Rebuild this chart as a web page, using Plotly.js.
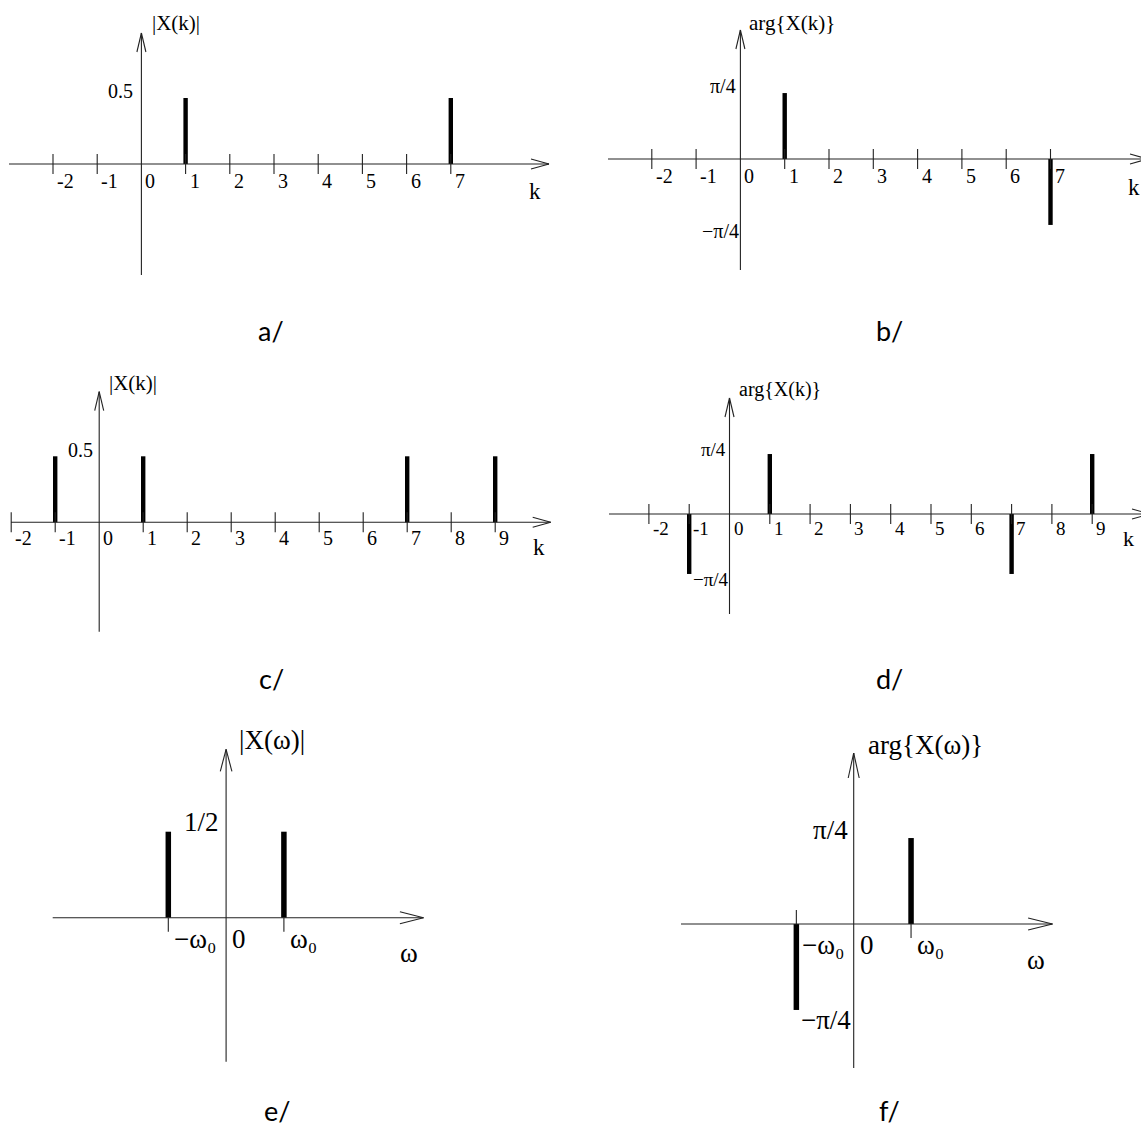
<!DOCTYPE html>
<html><head><meta charset="utf-8">
<script src="https://cdn.plot.ly/plotly-3.0.1.min.js"></script>
<style>html,body{margin:0;padding:0;background:#fff}</style>
</head><body>
<div id="chart" style="width:1141px;height:1129px"></div>
<script>
// ---------------- data ----------------
const kA = [1, 7];
const magA = [0.5, 0.5];
const kB = [1, 7];
const argB = [0.785, -0.785];
const kC = [-1, 1, 7, 9];
const magC = [0.5, 0.5, 0.5, 0.5];
const kD = [-1, 1, 7, 9];
const argD = [-0.785, 0.785, -0.785, 0.785];
const wE = [-1, 1];
const magE = [0.5, 0.5];
const wF = [-1, 1];
const argF = [-0.785, 0.785];

const tickValsAB = [-2, -1, 0, 1, 2, 3, 4, 5, 6, 7];
const tickTextAB = ['-2', '-1', '0', '1', '2', '3', '4', '5', '6', '7'];
const tickValsCD = [-2, -1, 0, 1, 2, 3, 4, 5, 6, 7, 8, 9];
const tickTextCD = ['-2', '-1', '0', '1', '2', '3', '4', '5', '6', '7', '8', '9'];
const tickValsW = [-1, 0, 1];
const tickTextW = ['\u2212\u03c9\u2080', '0', '\u03c9\u2080'];

const magLevelK = [0.5], magTextK = ['0.5'];
const magLevelW = [0.5], magTextW = ['1/2'];
const argLevels = [0.785, -0.785], argText = ['\u03c0/4', '\u2212\u03c0/4'];

const yTitles = ['|X(k)|', 'arg{X(k)}', '|X(k)|', 'arg{X(k)}', '|X(\u03c9)|', 'arg{X(\u03c9)}'];
const xTitles = ['k', 'k', 'k', 'k', '\u03c9', '\u03c9'];
const captions = ['a/', 'b/', 'c/', 'd/', 'e/', 'f/'];

// ---------------- geometry / style ----------------
const W = 1141, H = 1129;
const AXC = '#222';
const SERIF = 'Liberation Serif, Times New Roman, serif';
const SANS = 'Lato, Open Sans, sans-serif';

const traces = [], shapes = [], annotations = [];
const layout = {
  width: W, height: H, margin: {l: 0, r: 0, t: 0, b: 0},
  paper_bgcolor: '#fff', plot_bgcolor: 'rgba(0,0,0,0)', showlegend: false,
  shapes, annotations
};

function addPanel(n, g, d) {
  const sfx = n > 1 ? String(n) : '';
  const xa = 'x' + sfx, ya = 'y' + sfx;
  const [bl, br, bt, bb] = g.box;
  const [ox, oy] = g.o;
  const dx = px => (px - ox) / g.sx;
  const dy = py => (oy - py) / g.sy;
  layout['xaxis' + sfx] = {domain: [bl / W, br / W], range: [dx(bl), dx(br)], visible: false, fixedrange: true, anchor: ya};
  layout['yaxis' + sfx] = {domain: [1 - bb / H, 1 - bt / H], range: [dy(bb), dy(bt)], visible: false, fixedrange: true, anchor: xa};
  const line = {color: AXC, width: 1.1};
  const xTip = dx(g.xAx[1]), yTip = dy(g.yAx[0]);
  // axis lines
  shapes.push({type: 'line', xref: xa, yref: ya, x0: dx(g.xAx[0]), x1: xTip, y0: 0, y1: 0, line});
  shapes.push({type: 'line', xref: xa, yref: ya, x0: 0, x1: 0, y0: yTip, y1: dy(g.yAx[1]), line});
  // arrow heads (open V)
  [g.arrX[1], -g.arrX[1]].forEach(h => shapes.push({type: 'line', xref: xa, yref: ya,
    xsizemode: 'pixel', ysizemode: 'pixel', xanchor: xTip, yanchor: 0,
    x0: -g.arrX[0], y0: h, x1: 0, y1: 0, line}));
  [g.arrY[1], -g.arrY[1]].forEach(h => shapes.push({type: 'line', xref: xa, yref: ya,
    xsizemode: 'pixel', ysizemode: 'pixel', xanchor: 0, yanchor: yTip,
    x0: h, y0: -g.arrY[0], x1: 0, y1: 0, line}));
  // tick marks + labels
  d.tickVals.forEach((t, j) => {
    if (t !== 0) {
      let y0, y1;
      if (g.tickMode === 'cross') { y0 = -g.tickLen; y1 = g.tickLen; }
      else {
        const idx = d.x.indexOf(t);
        const s = idx >= 0 && d.y[idx] < 0 ? -1 : 1;
        y0 = 0; y1 = -s * g.tickLen;
      }
      shapes.push({type: 'line', xref: xa, yref: ya, ysizemode: 'pixel', yanchor: 0,
        x0: t, x1: t, y0, y1, line});
    }
    annotations.push({xref: xa, yref: ya, x: t, y: 0, text: d.tickText[j], showarrow: false,
      xanchor: 'left', yanchor: 'top', xshift: g.tlShift[0], yshift: g.tlShift[1],
      font: {family: SERIF, size: g.tickFont, color: '#000'}});
  });
  // y level labels
  d.levels.forEach((v, j) => {
    const sh = v >= 0 ? g.lvPos : g.lvNeg;
    annotations.push({xref: xa, yref: ya, x: 0, y: v, text: d.levelText[j], showarrow: false,
      xanchor: 'right', yanchor: 'middle', xshift: sh[0], yshift: sh[1],
      font: {family: SERIF, size: g.lvFont, color: '#000'}});
  });
  // y title
  annotations.push({xref: xa, yref: ya, x: 0, y: yTip, text: d.yTitle, showarrow: false,
    xanchor: 'left', yanchor: 'middle', xshift: g.ytShift[0], yshift: g.ytShift[1],
    font: {family: SERIF, size: g.ytFont, color: '#000'}});
  // x title
  annotations.push({xref: 'paper', yref: 'paper', x: g.xt[0] / W, y: 1 - g.xt[1] / H, text: d.xTitle,
    showarrow: false, xanchor: 'center', yanchor: 'middle',
    font: {family: SERIF, size: g.xtFont, color: '#000'}});
  // caption
  const capBottom = g.cap[1] === 'bottom';
  annotations.push({xref: 'paper', yref: 'paper', x: g.cap[0] / W,
    y: capBottom ? 0 : 1 - g.cap[1] / H, text: d.caption,
    showarrow: false, xanchor: 'center', yanchor: capBottom ? 'bottom' : 'middle',
    font: {family: SANS, size: 27, color: '#000'}});
  // stems
  const sxs = [], sys = [];
  d.x.forEach((k, j) => { sxs.push(k, k, null); sys.push(0, d.y[j], null); });
  traces.push({type: 'scatter', mode: 'lines', x: sxs, y: sys, xaxis: xa, yaxis: ya,
    line: {color: '#000', width: g.stemW}, hoverinfo: 'skip', showlegend: false});
}

addPanel(1, {box: [0, 570, 0, 345], o: [141.4, 164], sx: 44.2, sy: 132, xAx: [9, 549], yAx: [33, 275],
  arrX: [18, 5], arrY: [19, 4.5], tickMode: 'cross', tickLen: 10, stemW: 4.4,
  tickFont: 20, tlShift: [2, -4], lvFont: 20, lvPos: [-6, 7], lvNeg: [0, -6],
  ytFont: 21, ytShift: [9, 10], xtFont: 23, xt: [535, 192], cap: [271, 331]},
  {x: kA, y: magA, tickVals: tickValsAB, tickText: tickTextAB, levels: magLevelK, levelText: magTextK,
   yTitle: yTitles[0], xTitle: xTitles[0], caption: captions[0]});

addPanel(2, {box: [570, 1141, 0, 345], o: [740.4, 159], sx: 44.3, sy: 84.0, xAx: [608, 1148], yAx: [30, 270],
  arrX: [18, 5], arrY: [19, 4.5], tickMode: 'cross', tickLen: 10, stemW: 4.4,
  tickFont: 20, tlShift: [2, -4], lvFont: 20, lvPos: [-2, 7], lvNeg: [1, -6],
  ytFont: 21, ytShift: [7, 7], xtFont: 23, xt: [1134, 187], cap: [889, 331]},
  {x: kB, y: argB, tickVals: tickValsAB, tickText: tickTextAB, levels: argLevels, levelText: argText,
   yTitle: yTitles[1], xTitle: xTitles[1], caption: captions[1]});

addPanel(3, {box: [0, 570, 345, 700], o: [99.2, 522.3], sx: 44.0, sy: 132, xAx: [11, 550.7], yAx: [391.7, 631.7],
  arrX: [18, 5], arrY: [19, 4.5], tickMode: 'cross', tickLen: 10, stemW: 4.4,
  tickFont: 20, tlShift: [2, -3], lvFont: 20, lvPos: [-4, 6], lvNeg: [0, -6],
  ytFont: 21, ytShift: [8, 9], xtFont: 23, xt: [539, 548], cap: [271, 678]},
  {x: kC, y: magC, tickVals: tickValsCD, tickText: tickTextCD, levels: magLevelK, levelText: magTextK,
   yTitle: yTitles[2], xTitle: xTitles[2], caption: captions[2]});

addPanel(4, {box: [570, 1141, 345, 700], o: [729.5, 514], sx: 40.3, sy: 76.4, xAx: [609, 1150], yAx: [398, 614],
  arrX: [18, 5], arrY: [19, 4.5], tickMode: 'cross', tickLen: 10, stemW: 4.4,
  tickFont: 19, tlShift: [2, -2], lvFont: 19, lvPos: [-2, 5], lvNeg: [1, -6],
  ytFont: 20, ytShift: [7, 9], xtFont: 22, xt: [1128, 538], cap: [889, 678]},
  {x: kD, y: argD, tickVals: tickValsCD, tickText: tickTextCD, levels: argLevels, levelText: argText,
   yTitle: yTitles[3], xTitle: xTitles[3], caption: captions[3]});

addPanel(5, {box: [0, 570, 700, 1129], o: [226.1, 917.7], sx: 57.8, sy: 172, xAx: [52.7, 423.5], yAx: [749.3, 1061.7],
  arrX: [23.6, 6], arrY: [22, 5.8], tickMode: 'opp', tickLen: 14, stemW: 5.5,
  tickFont: 27, tlShift: [4, -4], lvFont: 27, lvPos: [-5, 10], lvNeg: [-1, -10],
  ytFont: 27, ytShift: [11, 9], xtFont: 27, xt: [409, 953], cap: [277, 'bottom']},
  {x: wE, y: magE, tickVals: tickValsW, tickText: tickTextW, levels: magLevelW, levelText: magTextW,
   yTitle: yTitles[4], xTitle: xTitles[4], caption: captions[4]});

addPanel(6, {box: [570, 1141, 700, 1129], o: [853.7, 924], sx: 57.35, sy: 109.5, xAx: [681, 1052.5], yAx: [753, 1068],
  arrX: [24.4, 6], arrY: [25, 5.5], tickMode: 'opp', tickLen: 14, stemW: 5.5,
  tickFont: 27, tlShift: [4, -4], lvFont: 27, lvPos: [-4, 8], lvNeg: [-1, -10],
  ytFont: 27, ytShift: [12, 8], xtFont: 27, xt: [1036, 960], cap: [889, 'bottom']},
  {x: wF, y: argF, tickVals: tickValsW, tickText: tickTextW, levels: argLevels, levelText: argText,
   yTitle: yTitles[5], xTitle: xTitles[5], caption: captions[5]});

Plotly.newPlot('chart', traces, layout, {staticPlot: true, displayModeBar: false});
</script>
</body></html>
